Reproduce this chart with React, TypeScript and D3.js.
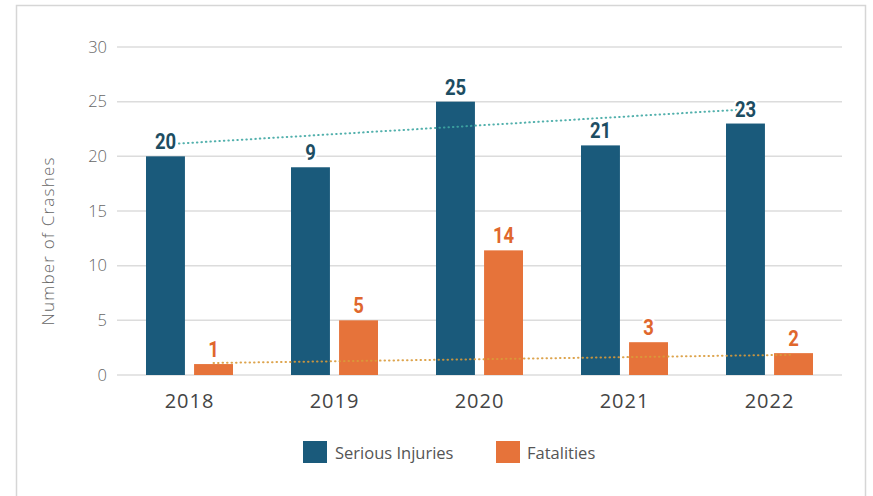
import * as d3 from "d3";

const years = ["2018", "2019", "2020", "2021", "2022"];
const seriousValues = [20, 19, 25, 21, 23];
const fatalValues = [1, 5, 11.4, 3, 2];
// data labels as printed on the chart (they do not all match the bar heights)
const seriousLabels = ["20", "9", "25", "21", "23"];
const fatalLabels = ["1", "5", "14", "3", "2"];
// linear trendline end values (first year, last year)
const seriousTrend = [21.1, 24.3];
const fatalTrend = [1.1, 1.85];
const yTicks = [0, 5, 10, 15, 20, 25, 30];
const seriesNames = ["Serious Injuries", "Fatalities"];

const W = 873;
const H = 496;
const plot = { left: 117, right: 842, top: 47, bottom: 375 };

const seriousColor = "#1a5a7b";
const fatalColor = "#e6733a";
const seriousLabelColor = "#1d4d62";
const fatalLabelColor = "#e0672d";
const font = "'Open Sans', 'DejaVu Sans', sans-serif";
const labelFont = "'Roboto', 'Liberation Sans', sans-serif";

export default function App() {
  const x0 = d3
    .scaleBand()
    .domain(years)
    .range([plot.left, plot.right])
    .paddingInner(0.4)
    .paddingOuter(0.2);
  const x1 = d3
    .scaleBand()
    .domain(seriesNames)
    .range([0, x0.bandwidth()])
    .paddingInner(0.19);
  const y = d3.scaleLinear().domain([0, 30]).range([plot.bottom, plot.top]);

  const series = [
    { name: seriesNames[0], values: seriousValues, labels: seriousLabels, color: seriousColor, labelColor: seriousLabelColor, trend: seriousTrend, trendColor: "#3fa7a3" },
    { name: seriesNames[1], values: fatalValues, labels: fatalLabels, color: fatalColor, labelColor: fatalLabelColor, trend: fatalTrend, trendColor: "#d99a3a" },
  ];

  const barX = (yr: string, name: string) => (x0(yr) ?? 0) + (x1(name) ?? 0);
  const bw = x1.bandwidth();
  const line = d3
    .line<[number, number]>()
    .x((d) => d[0])
    .y((d) => y(d[1]));

  return (
    <svg
      width={W}
      height={H}
      style={{ position: "absolute", left: 0, top: 0, background: "#fff" }}
    >
      <rect x={16.5} y={5.5} width={849} height={500} fill="#fff" stroke="#d6d6d6" strokeWidth={1.5} />

      {/* grid + y ticks */}
      {yTicks.map((t) => (
        <g key={t}>
          <line x1={plot.left} x2={plot.right} y1={y(t)} y2={y(t)} stroke="#dcdcdc" strokeWidth={1.5} />
          <text
            x={107}
            y={y(t)}
            dy="0.35em"
            textAnchor="end"
            fontFamily={font}
            fontSize={16.5}
            fontWeight={300}
            fill="#666"
          >
            {t}
          </text>
        </g>
      ))}

      <text
        transform={`translate(54,241) rotate(-90)`}
        textAnchor="middle"
        fontFamily={font}
        fontSize={17}
        fontWeight={300}
        letterSpacing={1.2}
        fill="#666"
      >
        Number of Crashes
      </text>

      {/* bars */}
      {series.map((s) =>
        years.map((yr, i) => (
          <rect
            key={s.name + yr}
            x={barX(yr, s.name)}
            y={y(s.values[i])}
            width={bw}
            height={y(0) - y(s.values[i])}
            fill={s.color}
          />
        ))
      )}

      {/* trendlines */}
      {series.map((s) => {
        const first = barX(years[0], s.name) + bw / 2;
        const last = barX(years[years.length - 1], s.name) + bw / 2;
        return (
          <path
            key={"trend" + s.name}
            d={line([
              [first, s.trend[0]],
              [last, s.trend[1]],
            ]) ?? ""}
            fill="none"
            stroke={s.trendColor}
            strokeWidth={2}
            strokeDasharray="0.5,4"
            strokeLinecap="round"
            opacity={0.9}
          />
        );
      })}

      {/* data labels */}
      {series.map((s) =>
        years.map((yr, i) => (
          <text
            key={"lab" + s.name + yr}
            transform={`translate(${barX(yr, s.name) + bw / 2},${y(s.values[i]) - 7}) scale(0.88,1.05)`}
            textAnchor="middle"
            fontFamily={labelFont}
            fontWeight="bold"
            fontSize={21}
            fill={s.labelColor}
            stroke="#fff"
            strokeWidth={5}
            paintOrder="stroke"
          >
            {s.labels[i]}
          </text>
        ))
      )}

      {/* x labels */}
      {years.map((yr) => (
        <text
          key={"x" + yr}
          x={(x0(yr) ?? 0) + x0.bandwidth() / 2}
          y={408}
          textAnchor="middle"
          fontFamily={font}
          fontSize={20}
          letterSpacing={1}
          fill="#444"
        >
          {yr}
        </text>
      ))}

      {/* legend */}
      <g>
        <rect x={303} y={441} width={24} height={22} fill={seriousColor} />
        <text x={335} y={459} fontFamily={font} fontSize={16.5} fill="#555">
          {seriesNames[0]}
        </text>
        <rect x={496} y={441} width={24} height={22} fill={fatalColor} />
        <text x={527} y={459} fontFamily={font} fontSize={16.5} fill="#555">
          {seriesNames[1]}
        </text>
      </g>
    </svg>
  );
}
